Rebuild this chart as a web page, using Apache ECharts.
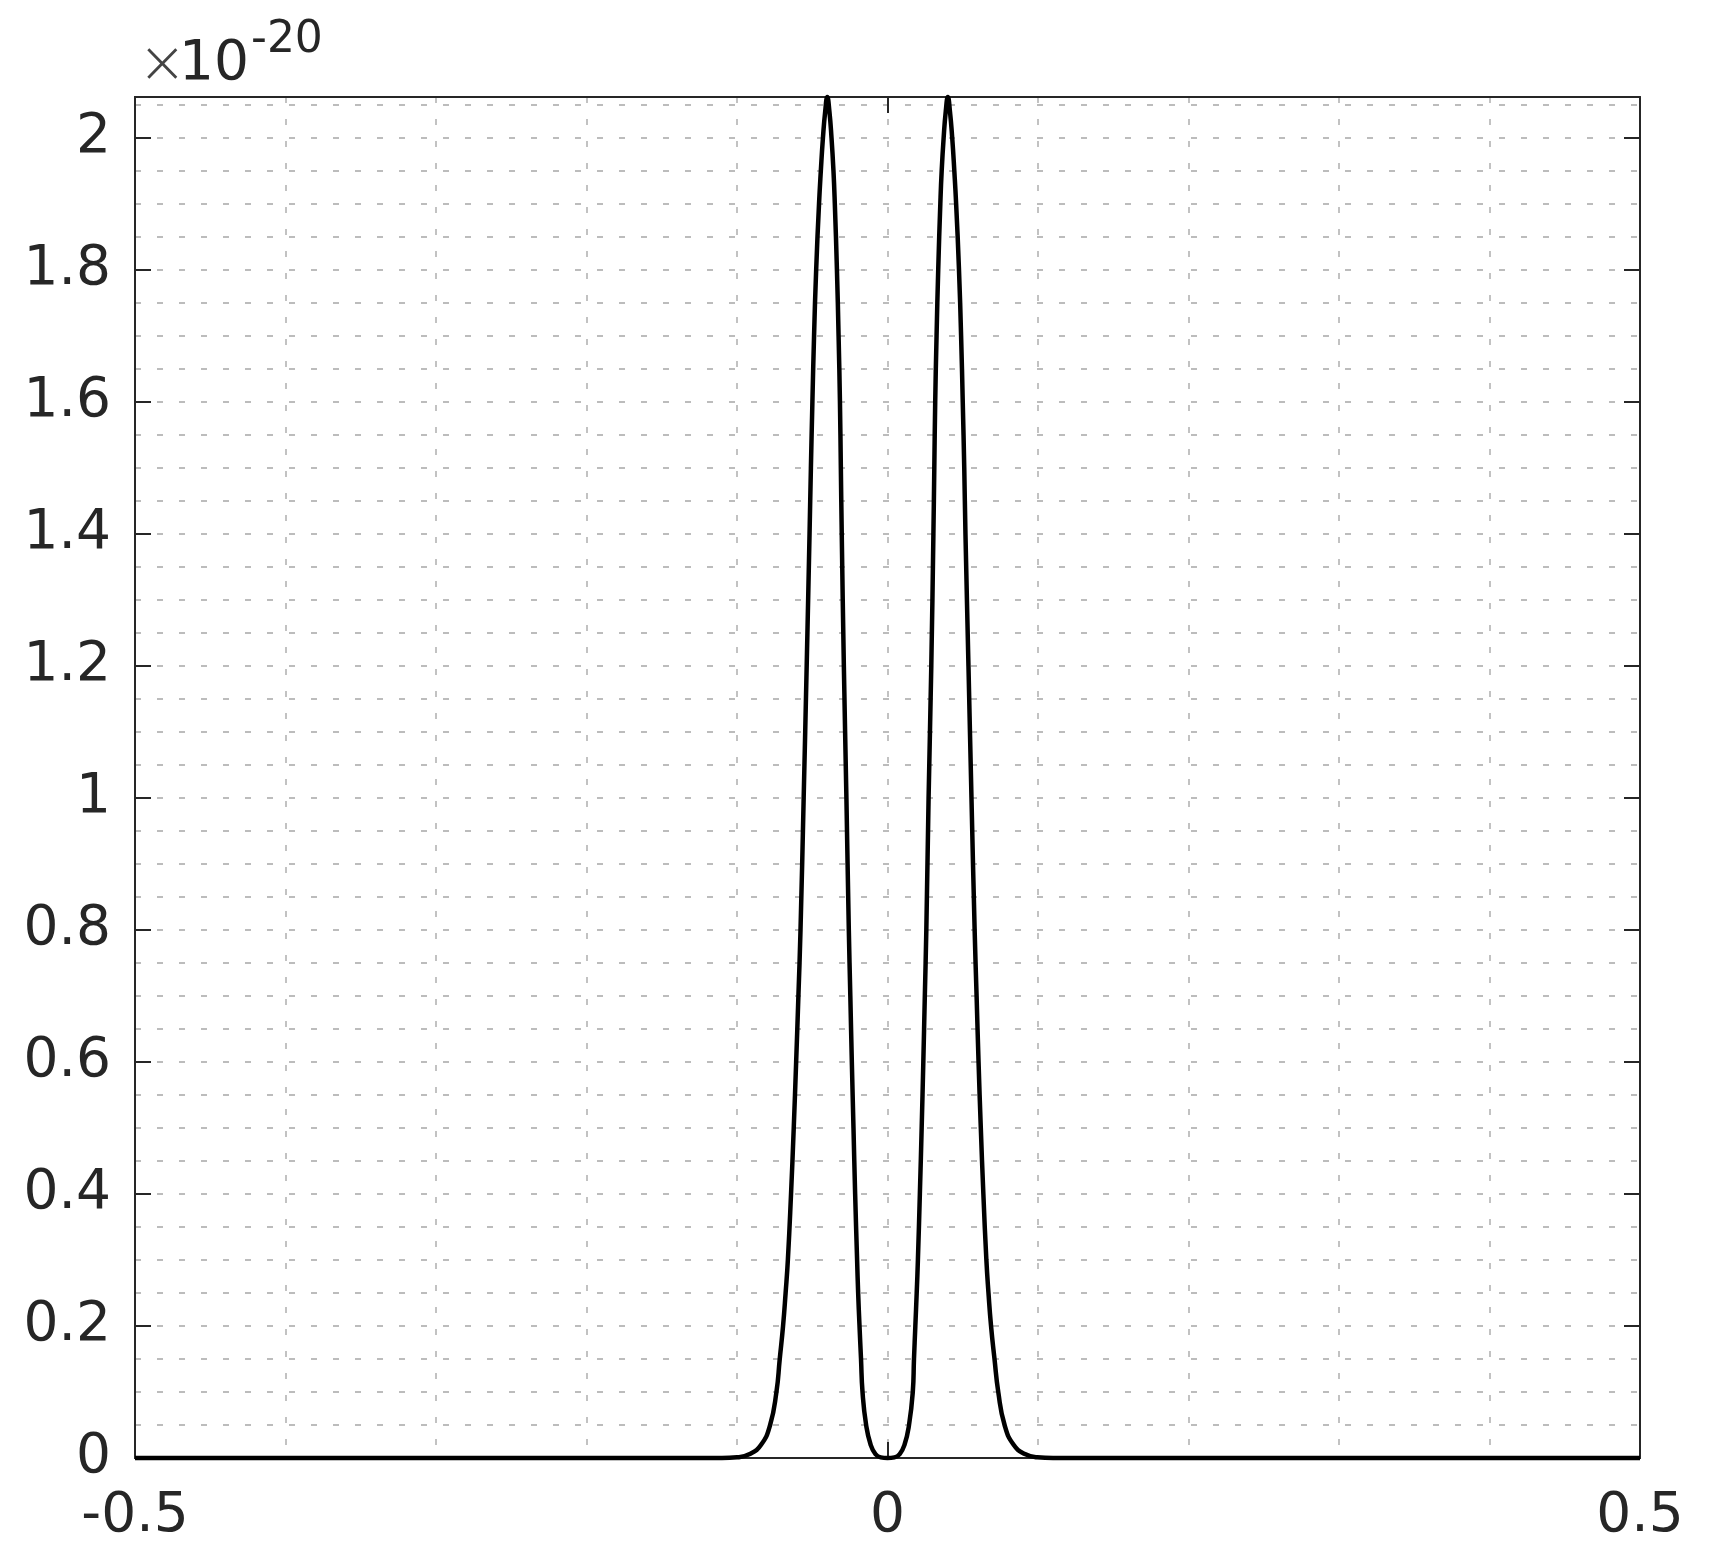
<!DOCTYPE html>
<html>
<head>
<meta charset="utf-8">
<script src="https://cdn.jsdelivr.net/npm/echarts@6/dist/echarts.min.js"></script>
<style>
  html, body { margin: 0; padding: 0; background: #fff; }
  #chart { width: 1710px; height: 1558px; }
</style>
</head>
<body>
<div id="chart"></div>
<script>
// values (y in units of 1e-20)
var xValues = [
  -0.5, -0.11, -0.100, -0.0915, -0.0840, -0.0780, -0.0738, -0.0716, -0.0694, -0.0677,
  -0.0662, -0.0641, -0.0623, -0.0607, -0.0592, -0.0578, -0.0557, -0.0537, -0.0518, -0.0509,
  -0.0499, -0.0488, -0.0474, -0.0455, -0.0443, -0.0429, -0.0414, -0.0400,
  -0.0386, -0.0372, -0.0359, -0.0350, -0.0336, -0.0325, -0.0316, -0.0310, -0.0304, -0.0290,
  -0.0273, -0.0257, -0.0247, -0.0237, -0.0226, -0.0215, -0.0202, -0.0195, -0.0186, -0.0176,
  -0.0166, -0.0142, -0.0112, -0.0080, -0.0045, 0,
  0.0046, 0.0081, 0.0113, 0.0143, 0.0168, 0.0176, 0.0185, 0.0194, 0.0202, 0.0215,
  0.0227, 0.0238, 0.0248, 0.0258, 0.0273, 0.0291, 0.0305, 0.0311, 0.0317, 0.0326,
  0.0337, 0.0351, 0.0360, 0.0373, 0.0387, 0.0401,
  0.0415, 0.0430, 0.0444, 0.0456, 0.0475, 0.0489, 0.0500, 0.0510, 0.0518, 0.0538,
  0.0558, 0.0579, 0.0592, 0.0605, 0.0620, 0.0637, 0.0657, 0.0671, 0.0688, 0.0711,
  0.0736, 0.0778, 0.0838, 0.0913, 0.0995, 0.11, 0.5
];
var yValues = [
  0, 0, 0.001, 0.006, 0.02, 0.05, 0.1, 0.15, 0.2, 0.25,
  0.3, 0.4, 0.5, 0.6, 0.7, 0.8, 1.0, 1.2, 1.4, 1.5,
  1.6, 1.7, 1.8, 1.9, 1.95, 2.0, 2.04, 2.062,
  2.04, 2.0, 1.95, 1.9, 1.8, 1.7, 1.6, 1.5, 1.4, 1.2,
  1.0, 0.8, 0.7, 0.6, 0.5, 0.4, 0.3, 0.25, 0.2, 0.15,
  0.1, 0.05, 0.02, 0.006, 0.001, 0,
  0.001, 0.006, 0.02, 0.05, 0.1, 0.15, 0.2, 0.25, 0.3, 0.4,
  0.5, 0.6, 0.7, 0.8, 1.0, 1.2, 1.4, 1.5, 1.6, 1.7,
  1.8, 1.9, 1.95, 2.0, 2.04, 2.062,
  2.04, 2.0, 1.95, 1.9, 1.8, 1.7, 1.6, 1.5, 1.4, 1.2,
  1.0, 0.8, 0.7, 0.6, 0.5, 0.4, 0.3, 0.25, 0.2, 0.15,
  0.1, 0.05, 0.02, 0.006, 0.001, 0, 0
];
var xTickLabels = ['-0.5', '0', '0.5'];
var yTickLabels = ['0', '0.2', '0.4', '0.6', '0.8', '1', '1.2', '1.4', '1.6', '1.8', '2'];
var exponentText = '-20';

var yMax = 2.062;
var textColor = '#262626';
var fontName = 'DejaVu Sans';

var points = xValues.map(function (x, i) { return [x, yValues[i]]; });

function matchLabel(list, v) {
  for (var i = 0; i < list.length; i++) {
    if (Math.abs(parseFloat(list[i]) - v) < 1e-6) return list[i];
  }
  return '';
}

var gridLine = { show: true, lineStyle: { color: '#bcbcbc', width: 1.8, type: [6, 16] } };
var frameLine = { show: true, onZero: false, lineStyle: { color: textColor, width: 2 } };

var chart = echarts.init(document.getElementById('chart'));
chart.setOption({
  animation: false,
  backgroundColor: '#fff',
  grid: { left: 135, right: 70, top: 97, bottom: 100, containLabel: false },
  xAxis: [
    { // grid lines every 0.1
      type: 'value', position: 'bottom', min: -0.5, max: 0.5, interval: 0.1,
      axisLine: frameLine, axisTick: { show: false }, axisLabel: { show: false },
      splitLine: gridLine
    },
    { // labels and ticks
      type: 'value', position: 'bottom', min: -0.5, max: 0.5, interval: 0.5,
      axisLine: frameLine,
      axisTick: { show: true, inside: true, length: 16, lineStyle: { color: textColor, width: 2 } },
      axisLabel: {
        show: true, margin: 31, color: textColor, fontSize: 55, fontFamily: fontName,
        formatter: function (v) { return matchLabel(xTickLabels, v); }
      },
      splitLine: { show: false }
    },
    { // top frame
      type: 'value', position: 'top', min: -0.5, max: 0.5, interval: 0.5,
      axisLine: frameLine,
      axisTick: { show: true, inside: true, length: 16, lineStyle: { color: textColor, width: 2 } },
      axisLabel: { show: false }, splitLine: { show: false }
    }
  ],
  yAxis: [
    { // grid lines every 0.05
      type: 'value', position: 'left', min: 0, max: yMax, interval: 0.05,
      axisLine: frameLine, axisTick: { show: false }, axisLabel: { show: false },
      splitLine: gridLine
    },
    { // labels and ticks
      type: 'value', position: 'left', min: 0, max: yMax, interval: 0.2,
      axisLine: frameLine,
      axisTick: { show: true, inside: true, length: 16, lineStyle: { color: textColor, width: 2 } },
      axisLabel: {
        show: true, margin: 24, color: textColor, fontSize: 55, fontFamily: fontName,
        formatter: function (v) { return matchLabel(yTickLabels, v); }
      },
      splitLine: { show: false }
    },
    { // right frame
      type: 'value', position: 'right', min: 0, max: yMax, interval: 0.2,
      axisLine: frameLine,
      axisTick: { show: true, inside: true, length: 16, lineStyle: { color: textColor, width: 2 } },
      axisLabel: { show: false }, splitLine: { show: false }
    }
  ],
  graphic: [
    { type: 'text', left: 138, top: 38, silent: true,
      style: { text: '\u00d7', font: '200 58px "' + fontName + '"', fill: '#444' } },
    { type: 'text', left: 179, top: 37, silent: true,
      style: { text: '10', font: '55px "' + fontName + '"', fill: textColor } },
    { type: 'text', left: 251, top: 19, silent: true,
      style: { text: exponentText, font: '44px "' + fontName + '"', fill: textColor } }
  ],
  series: [{
    type: 'line',
    xAxisIndex: 0,
    yAxisIndex: 0,
    data: points,
    showSymbol: false,
    smooth: 0.5,
    clip: false,
    z: 5,
    lineStyle: { color: '#000', width: 4.5 }
  }]
});
</script>
</body>
</html>
